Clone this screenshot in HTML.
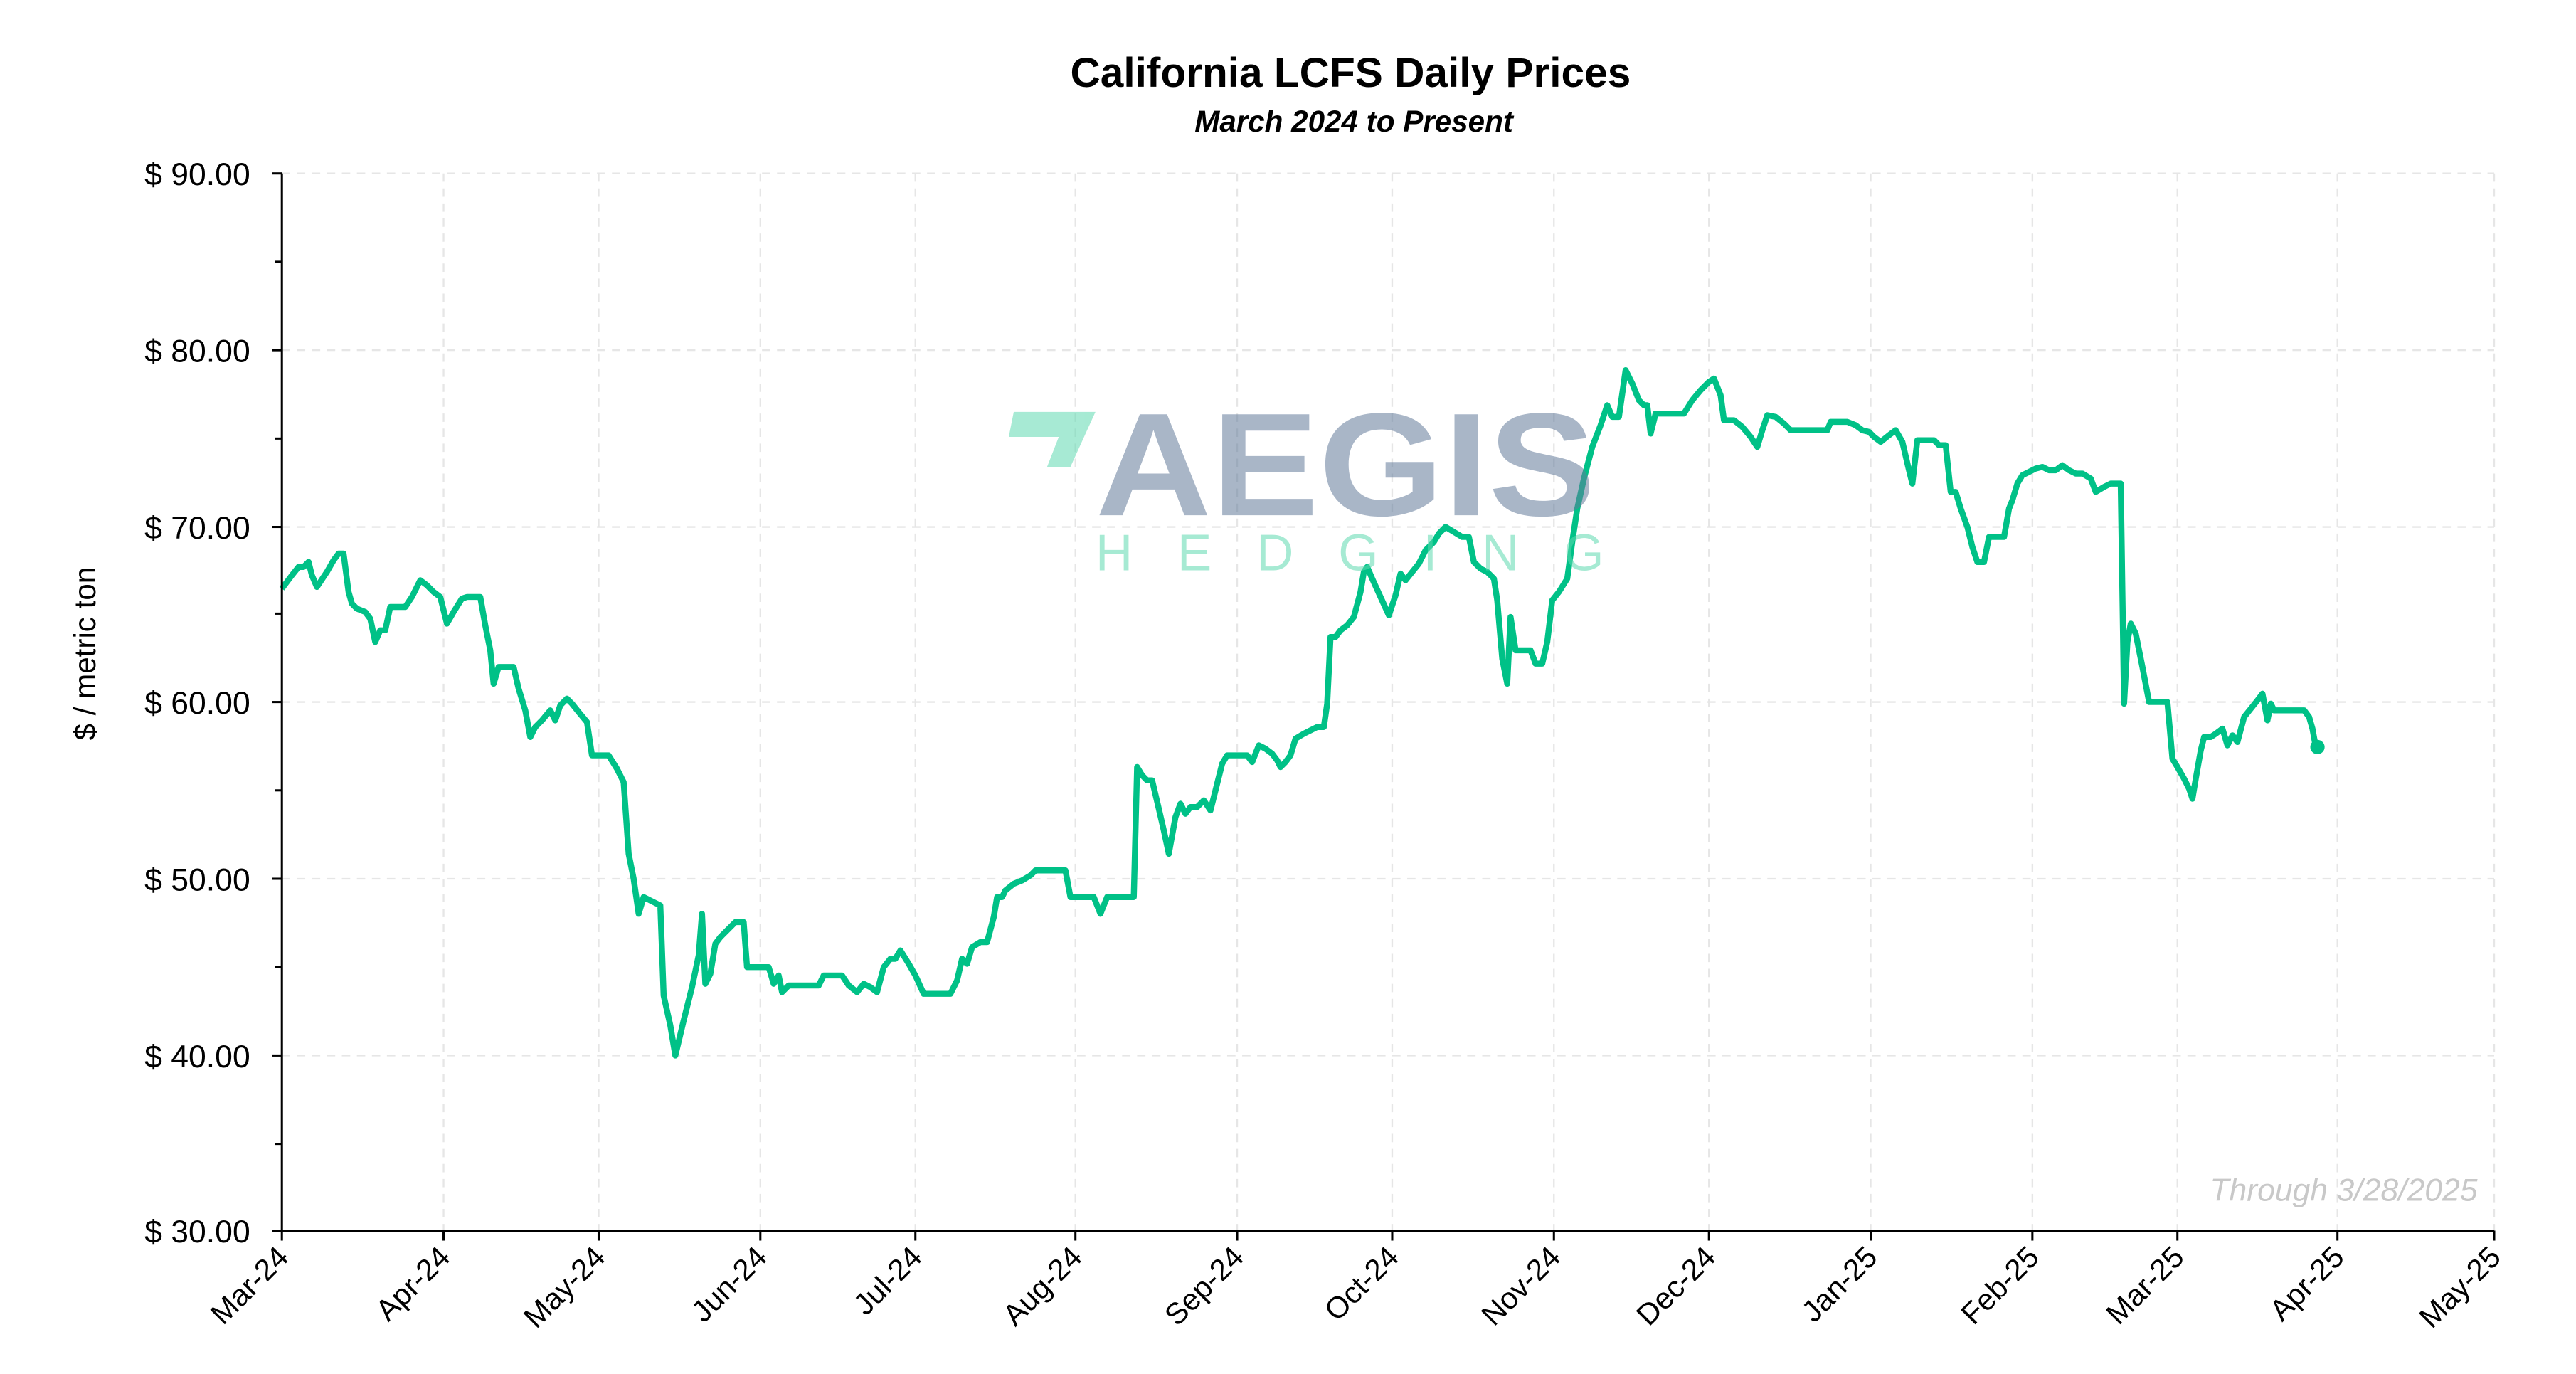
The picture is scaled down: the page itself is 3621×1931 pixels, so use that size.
<!DOCTYPE html>
<html><head><meta charset="utf-8"><style>
html,body{margin:0;padding:0;background:#fff;}
svg{display:block;font-family:"Liberation Sans",sans-serif;}
</style></head><body>
<svg width="3621" height="1931" viewBox="0 0 1545 824" xmlns="http://www.w3.org/2000/svg">
<rect width="1545" height="824" fill="#fff"/>
<g stroke="#e6e6e6" stroke-width="1" stroke-dasharray="5,4">
<line x1="169" x2="1496" y1="104" y2="104"/><line x1="169" x2="1496" y1="210" y2="210"/><line x1="169" x2="1496" y1="316" y2="316"/><line x1="169" x2="1496" y1="421" y2="421"/><line x1="169" x2="1496" y1="527" y2="527"/><line x1="169" x2="1496" y1="633" y2="633"/>
<line x1="266" x2="266" y1="104" y2="738"/><line x1="359" x2="359" y1="104" y2="738"/><line x1="456" x2="456" y1="104" y2="738"/><line x1="549" x2="549" y1="104" y2="738"/><line x1="645" x2="645" y1="104" y2="738"/><line x1="742" x2="742" y1="104" y2="738"/><line x1="835" x2="835" y1="104" y2="738"/><line x1="932" x2="932" y1="104" y2="738"/><line x1="1025" x2="1025" y1="104" y2="738"/><line x1="1122" x2="1122" y1="104" y2="738"/><line x1="1219" x2="1219" y1="104" y2="738"/><line x1="1306" x2="1306" y1="104" y2="738"/><line x1="1402" x2="1402" y1="104" y2="738"/><line x1="1496" x2="1496" y1="104" y2="738"/>
</g>
<text x="810" y="52" text-anchor="middle" font-size="25" font-weight="bold" fill="#000">California LCFS Daily Prices</text>
<text x="812" y="79" text-anchor="middle" font-size="18" font-weight="bold" font-style="italic" fill="#000">March 2024 to Present</text>
<polyline fill="none" stroke="#00c187" stroke-width="3.6" stroke-linejoin="round" points="169,353 175,345 179,340 182,340 185,337 187,345 190,352 196,343 200,336 203,332 206,332 209,355 211,362 214,365 219,367 222,371 225,385 228,378 231,378 234,364 240,364 243,364 247,358 252,348 256,351 260,355 264,358 268,374 272,367 277,359 280,358 288,358 291,375 294,390 296,410 299,400 302,400 308,400 311,413 315,426 318,442 321,436 325,432 330,426 333,432 336,423 340,419 343,422 347,427 352,433 355,453 360,453 365,453 370,461 374,469 377,512 380,527 383,548 386,538 390,540 396,543 398,597 402,615 405,633 410,612 415,592 419,573 421,548 423,590 426,584 429,566 432,562 436,558 441,553 446,553 448,580 452,580 455,580 461,580 464,590 467,585 469,595 473,591 478,591 485,591 491,591 494,585 500,585 505,585 509,591 514,595 518,590 522,592 526,595 530,580 534,575 537,575 540,570 545,578 549,585 554,596 560,596 565,596 570,596 574,588 577,575 580,578 583,568 588,565 592,565 596,550 598,538 601,538 603,534 608,530 613,528 618,525 621,522 625,522 633,522 639,522 642,538 645,538 650,538 656,538 660,548 664,538 670,538 675,538 680,538 682,460 685,465 688,468 691,468 695,485 698,498 701,512 705,490 708,482 711,488 714,484 718,484 722,480 726,486 730,470 733,458 736,453 740,453 745,453 748,453 751,457 755,447 759,449 763,452 766,456 768,460 771,457 774,453 777,443 782,440 786,438 790,436 794,436 796,422 798,382 801,382 804,378 808,375 812,370 816,355 818,343 820,340 823,347 828,358 833,369 837,357 840,344 843,348 847,343 851,338 855,330 860,325 863,320 867,316 872,319 877,322 881,322 884,337 888,341 892,343 896,347 898,360 901,395 904,410 906,370 909,390 913,390 918,390 921,398 925,398 928,385 931,360 935,355 940,347 943,325 946,305 950,287 955,268 960,255 964,243 967,250 971,250 975,222 979,230 983,240 986,243 988,243 990,260 993,248 998,248 1005,248 1010,248 1015,240 1020,234 1025,229 1028,227 1032,237 1034,252 1040,252 1045,256 1050,262 1054,268 1057,258 1060,249 1065,250 1070,254 1074,258 1077,258 1085,258 1092,258 1096,258 1098,253 1104,253 1108,253 1113,255 1117,258 1121,259 1124,262 1128,265 1133,261 1137,258 1141,265 1145,282 1147,290 1150,264 1157,264 1160,264 1163,267 1167,267 1170,295 1173,295 1176,305 1180,316 1183,328 1186,337 1190,337 1193,322 1197,322 1202,322 1205,305 1207,300 1210,290 1213,285 1217,283 1221,281 1225,280 1229,282 1233,282 1237,279 1241,282 1245,284 1249,284 1254,287 1257,295 1262,292 1266,290 1272,290 1274,422 1276,385 1278,374 1281,380 1285,400 1289,421 1293,421 1298,421 1300,421 1303,455 1306,460 1310,467 1313,473 1315,479 1317,467 1320,450 1322,442 1326,442 1329,440 1333,437 1336,447 1339,441 1342,445 1346,430 1350,425 1354,420 1357,416 1360,432 1362,422 1364,426 1366,426 1370,426 1375,426 1382,426 1385,430 1387,437 1389,448"/>
<circle cx="1390" cy="448" r="4.3" fill="#00c187"/>
<g opacity="0.55">
<polygon points="608,247 657,247 642,280 628,280 635,262 605,262" fill="#5fd9b0"/>
<text x="657" y="309" font-size="88" font-weight="bold" fill="#637b9b" textLength="300" lengthAdjust="spacingAndGlyphs">AEGIS</text>
<text x="657" y="342" font-size="31" fill="#5fd9b0" textLength="305" lengthAdjust="spacing">HEDGING</text>
</g>
<g stroke="#000" stroke-width="1.3">
<line x1="169" x2="169" y1="104" y2="738"/>
<line x1="163" x2="1496" y1="738" y2="738"/>
<line x1="163" x2="169" y1="104" y2="104"/><line x1="163" x2="169" y1="210" y2="210"/><line x1="163" x2="169" y1="316" y2="316"/><line x1="163" x2="169" y1="421" y2="421"/><line x1="163" x2="169" y1="527" y2="527"/><line x1="163" x2="169" y1="633" y2="633"/>
<line x1="165" x2="169" y1="157" y2="157"/><line x1="165" x2="169" y1="263" y2="263"/><line x1="165" x2="169" y1="368" y2="368"/><line x1="165" x2="169" y1="474" y2="474"/><line x1="165" x2="169" y1="580" y2="580"/><line x1="165" x2="169" y1="686" y2="686"/>
<line x1="169" x2="169" y1="738" y2="744"/><line x1="266" x2="266" y1="738" y2="744"/><line x1="359" x2="359" y1="738" y2="744"/><line x1="456" x2="456" y1="738" y2="744"/><line x1="549" x2="549" y1="738" y2="744"/><line x1="645" x2="645" y1="738" y2="744"/><line x1="742" x2="742" y1="738" y2="744"/><line x1="835" x2="835" y1="738" y2="744"/><line x1="932" x2="932" y1="738" y2="744"/><line x1="1025" x2="1025" y1="738" y2="744"/><line x1="1122" x2="1122" y1="738" y2="744"/><line x1="1219" x2="1219" y1="738" y2="744"/><line x1="1306" x2="1306" y1="738" y2="744"/><line x1="1402" x2="1402" y1="738" y2="744"/><line x1="1496" x2="1496" y1="738" y2="744"/>
</g>
<g font-size="19" fill="#000" text-anchor="end">
<text x="150" y="111">$ 90.00</text><text x="150" y="217">$ 80.00</text><text x="150" y="323">$ 70.00</text><text x="150" y="428">$ 60.00</text><text x="150" y="534">$ 50.00</text><text x="150" y="640">$ 40.00</text><text x="150" y="745">$ 30.00</text>
</g>
<text transform="translate(57,392) rotate(-90)" text-anchor="middle" font-size="18" fill="#000">$ / metric ton</text>
<g font-size="18" fill="#000" text-anchor="end">
<text transform="translate(174,755) rotate(-45)">Mar-24</text>
<text transform="translate(271,755) rotate(-45)">Apr-24</text>
<text transform="translate(364,755) rotate(-45)">May-24</text>
<text transform="translate(461,755) rotate(-45)">Jun-24</text>
<text transform="translate(554,755) rotate(-45)">Jul-24</text>
<text transform="translate(650,755) rotate(-45)">Aug-24</text>
<text transform="translate(747,755) rotate(-45)">Sep-24</text>
<text transform="translate(840,755) rotate(-45)">Oct-24</text>
<text transform="translate(937,755) rotate(-45)">Nov-24</text>
<text transform="translate(1030,755) rotate(-45)">Dec-24</text>
<text transform="translate(1127,755) rotate(-45)">Jan-25</text>
<text transform="translate(1224,755) rotate(-45)">Feb-25</text>
<text transform="translate(1311,755) rotate(-45)">Mar-25</text>
<text transform="translate(1407,755) rotate(-45)">Apr-25</text>
<text transform="translate(1501,755) rotate(-45)">May-25</text>
</g>
<text x="1486" y="720" text-anchor="end" font-size="19" font-style="italic" fill="#c8c8c8">Through 3/28/2025</text>
</svg>
</body></html>
